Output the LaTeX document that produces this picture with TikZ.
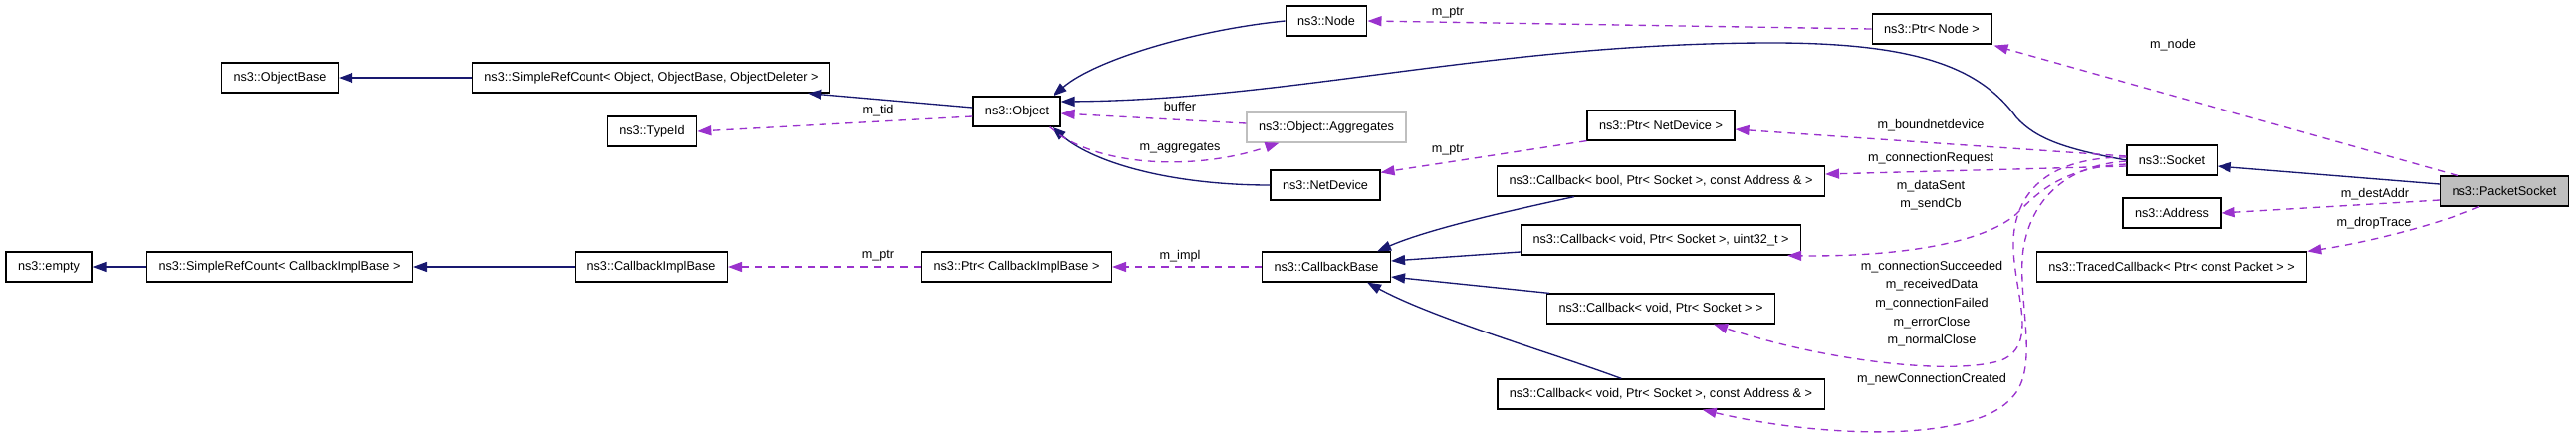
\documentclass[tikz,border=0pt]{standalone}
\usepackage{fontspec}
\setmainfont{Liberation Sans}
\usepackage{tikz}
\usetikzlibrary{arrows.meta,calc}

\definecolor{inhblue}{HTML}{191970}
\definecolor{usepurple}{HTML}{9A32CD}
\definecolor{boxgrey}{HTML}{BFBFBF}

\begin{document}
\begin{tikzpicture}[x=0.75pt, y=-0.75pt,
    cls/.style={draw, line width=0.9pt, minimum height=22.5pt, inner xsep=9pt, inner ysep=0pt,
        font=\fontsize{9.5pt}{11pt}\selectfont},
    lbl/.style={inner sep=0pt, align=center, font=\fontsize{9.5pt}{14pt}\selectfont},
    inh/.style={draw=inhblue, line width=1pt, -{Triangle[length=10.5pt, width=7.5pt]}},
    use/.style={draw=usepurple, line width=1pt, dash pattern=on 5.5pt off 4.5pt,
        -{Triangle[length=10.5pt, width=7.5pt]}}]
        \useasboundingbox (0,0) rectangle (2587,444);

        % Классы
        \node[cls] (objbase) at (281,78) {ns3::ObjectBase};
        \node[cls] (refobj) at (654,78) {ns3::SimpleRefCount< Object, ObjectBase, ObjectDeleter >};
        \node[cls] (typeid) at (655,132) {ns3::TypeId};
        \node[cls] (object) at (1021,112) {ns3::Object};
        \node[cls] (node) at (1332,21) {ns3::Node};
        \node[cls, draw=boxgrey] (aggr) at (1332,128) {ns3::Object::Aggregates};
        \node[cls] (netdev) at (1331,186) {ns3::NetDevice};
        \node[cls] (ptrnode) at (1940,29) {ns3::Ptr< Node >};
        \node[cls] (ptrnetdev) at (1668,126) {ns3::Ptr< NetDevice >};
        \node[cls] (cbbool) at (1668,182) {ns3::Callback< bool, Ptr< Socket >, const Address \& >};
        \node[cls] (cbsent) at (1668,241) {ns3::Callback< void, Ptr< Socket >, uint32\_t >};
        \node[cls] (cbsock) at (1668,310) {ns3::Callback< void, Ptr< Socket > >};
        \node[cls] (cbaddr) at (1668,396) {ns3::Callback< void, Ptr< Socket >, const Address \& >};
        \node[cls] (socket) at (2181,161) {ns3::Socket};
        \node[cls, fill=boxgrey] (pktsock) at (2515,192) {ns3::PacketSocket};
        \node[cls] (address) at (2181,214) {ns3::Address};
        \node[cls] (traced) at (2181,268) {ns3::TracedCallback< Ptr< const Packet > >};
        \node[cls] (empty) at (49,268) {ns3::empty};
        \node[cls] (refcib) at (281,268) {ns3::SimpleRefCount< CallbackImplBase >};
        \node[cls] (cib) at (654,268) {ns3::CallbackImplBase};
        \node[cls] (ptrcib) at (1021,268) {ns3::Ptr< CallbackImplBase >};
        \node[cls] (cbbase) at (1332,268) {ns3::CallbackBase};

        % Наследование
        \draw[inh] (refobj) -- (objbase);
        \draw[inh] ($(object.west)+(0,-4)$) -- ($(refobj.south east)+(-23,0)$);
        \draw[inh] (node.west) .. controls (1200,30) and (1100,60) .. ($(object.north east)+(-8,0)$);
        \draw[inh] (socket.west) .. controls (2075,150) and (2045,140) .. (2025,118)
            .. controls (1990,70) and (1930,43) .. (1780,43)
            .. controls (1500,43) and (1300,100) .. ($(object.east)+(0,-10)$);
        \draw[inh] (netdev.west) .. controls (1180,186) and (1100,165) .. ($(object.south east)+(-9,0)$);
        \draw[inh] (cib) -- (refcib);
        \draw[inh] (refcib) -- (empty);
        \draw[inh] ($(cbbool.south west)+(78,0)$) .. controls (1500,215) and (1430,232) .. ($(cbbase.north east)+(-14,0)$);
        \draw[inh] ($(cbsent.west)+(0,12)$) -- ($(cbbase.east)+(0,-6)$);
        \draw[inh] ($(cbsock.north west)+(3,0)$) -- ($(cbbase.east)+(0,10)$);
        \draw[inh] ($(cbaddr.north west)+(125,0)$) .. controls (1560,355) and (1440,320) .. ($(cbbase.south east)+(-24,0)$);
        \draw[inh] ($(pktsock.west)+(0,-7)$) -- ($(socket.east)+(0,6)$);

        % Поля
        \draw[use] ($(object.west)+(0,5)$) -- (typeid.east);
        \node[lbl] (l-tid) at (882,111) {m\_tid};
        \draw[use] ($(aggr.west)+(0,-4)$) -- ($(object.east)+(0,2)$);
        \node[lbl] (l-buffer) at (1185,107) {buffer};
        \draw[use] ($(object.south east)+(-12,0)$) .. controls (1100,168) and (1200,172) .. ($(aggr.south west)+(33,0)$);
        \node[lbl] (l-aggr) at (1185,149) {m\_aggregates};
        \draw[use] (ptrnode.west) -- (node.east);
        \node[lbl] (l-ptrnode) at (1454,13) {m\_ptr};
        \draw[use] (ptrnetdev.south west) -- ($(netdev.north east)+(0,3)$);
        \node[lbl] (l-ptrnetdev) at (1454,151) {m\_ptr};
        \draw[use] (ptrcib) -- (cib);
        \node[lbl] (l-ptrcib) at (882,257) {m\_ptr};
        \draw[use] (cbbase) -- (ptrcib);
        \node[lbl] (l-impl) at (1185,257) {m\_impl};
        \draw[use] ($(pktsock.north west)+(18,0)$) -- ($(ptrnode.south east)+(2,1)$);
        \node[lbl] (l-node) at (2182,45) {m\_node};
        \draw[use] ($(socket.west)+(0,-4)$) -- ($(ptrnetdev.east)+(0,4)$);
        \node[lbl] (l-bound) at (1939,126) {m\_boundnetdevice};
        \draw[use] ($(socket.west)+(0,6)$) -- ($(cbbool.east)+(0,-7)$);
        \node[lbl] (l-request) at (1939,159) {m\_connectionRequest};
        \draw[use] ($(socket.west)+(0,4)$) .. controls (2070,168) and (2045,195) .. (2025,215)
            .. controls (1985,250) and (1880,258) .. ($(cbsent.south east)+(-14,0)$);
        \node[lbl] (l-sent) at (1939,196) {m\_dataSent\\m\_sendCb};
        \draw[use] ($(socket.west)+(0,-3)$) .. controls (2060,158) and (2025,190) .. (2022,240)
            .. controls (2020,290) and (2050,345) .. (2010,362)
            .. controls (1960,378) and (1830,362) .. ($(cbsock.south east)+(-62,0)$);
        \node[lbl] (l-conn) at (1940,305) {m\_connectionSucceeded\\m\_receivedData\\m\_connectionFailed\\m\_errorClose\\m\_normalClose};
        \draw[use] ($(socket.west)+(0,1)$) .. controls (2075,166) and (2040,200) .. (2032,250)
            .. controls (2025,300) and (2050,370) .. (2020,400)
            .. controls (1980,445) and (1830,440) .. ($(cbaddr.south east)+(-123,0)$);
        \node[lbl] (l-newconn) at (1940,381) {m\_newConnectionCreated};
        \draw[use] ($(pktsock.west)+(0,9)$) -- (address.east);
        \node[lbl] (l-dest) at (2385,195) {m\_destAddr};
        \draw[use] ($(pktsock.south west)+(40,0)$) .. controls (2450,225) and (2380,243) .. (traced.north east);
        \node[lbl] (l-drop) at (2384,224) {m\_dropTrace};
    \end{tikzpicture}
\end{document}
